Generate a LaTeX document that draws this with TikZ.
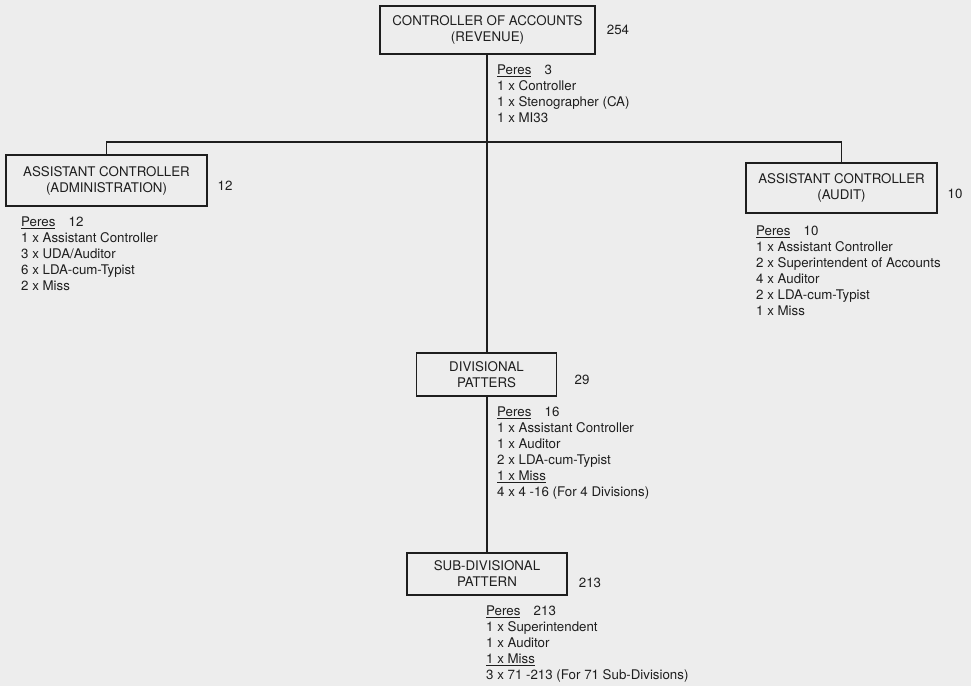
\documentclass[tikz,border=0pt]{standalone}
\usepackage{fontspec}
\setmainfont{TeX Gyre Heros}
\definecolor{ink}{HTML}{1E1E1E}
\definecolor{paper}{HTML}{EDEDED}
\begin{document}
\begin{tikzpicture}[x=1pt,y=-1pt,
  every node/.style={text=ink,font=\fontsize{13.3}{16}\selectfont,inner sep=0pt},
  unit/.style={draw=ink,line width=1.4pt,align=center,anchor=center},
  count/.style={anchor=center},
  staff/.style={align=left,anchor=north west},
  link/.style={draw=ink,line width=1.3pt}]
\fill[paper] (0,0) rectangle (971,686);
\useasboundingbox (0,0) rectangle (971,686);

\node[unit,minimum width=215pt,minimum height=48pt] (ca) at (487.5,30) {CONTROLLER OF ACCOUNTS\\(REVENUE)};
\node[count] (ca-n) at (618,30) {254};
\node[staff] (ca-s) at (497,64.5) {\underline{Peres}\quad 3\\1 x Controller\\1 x Stenographer (CA)\\1 x MI33};

\node[unit,minimum width=201pt,minimum height=51pt] (adm) at (106.5,180.5) {ASSISTANT CONTROLLER\\(ADMINISTRATION)};
\node[count] (adm-n) at (225,186) {12};
\node[staff] (adm-s) at (21,216.5) {\underline{Peres}\quad 12\\1 x Assistant Controller\\3 x UDA/Auditor\\6 x LDA-cum-Typist\\2 x Miss};

\node[unit,minimum width=191pt,minimum height=50pt] (aud) at (841.5,188) {ASSISTANT CONTROLLER\\(AUDIT)};
\node[count] (aud-n) at (955,194) {10};
\node[staff] (aud-s) at (756,226) {\underline{Peres}\quad 10\\1 x Assistant Controller\\2 x Superintendent of Accounts\\4 x Auditor\\2 x LDA-cum-Typist\\1 x Miss};

\node[unit,minimum width=140pt,minimum height=43pt] (div) at (486.5,374.5) {DIVISIONAL\\PATTERS};
\node[count] (div-n) at (582,380) {29};
\node[staff] (div-s) at (497,406.5) {\underline{Peres}\quad 16\\1 x Assistant Controller\\1 x Auditor\\2 x LDA-cum-Typist\\\underline{1 x Miss}\\4 x 4 -16 (For 4 Divisions)};

\node[unit,minimum width=160pt,minimum height=42pt] (sub) at (487,574) {SUB-DIVISIONAL\\PATTERN};
\node[count] (sub-n) at (590,583) {213};
\node[staff] (sub-s) at (486,606) {\underline{Peres}\quad 213\\1 x Superintendent\\1 x Auditor\\\underline{1 x Miss}\\3 x 71 -213 (For 71 Sub-Divisions)};

\coordinate (jn) at (487,142);
\draw[link] (ca.south -| jn) -- (div.north -| jn);
\draw[link] (div.south -| jn) -- (sub.north -| jn);
\draw[link] (jn) -| (adm.north);
\draw[link] (jn) -| (aud.north);
\end{tikzpicture}
\end{document}
